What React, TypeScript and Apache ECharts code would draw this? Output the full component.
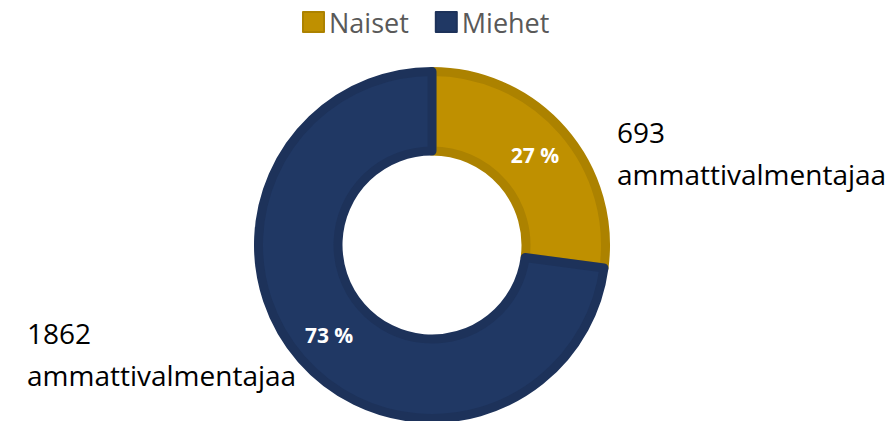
import React, { useEffect, useRef } from "react";
import * as echarts from "echarts";

const categories = ["Naiset", "Miehet"];
const values = [693, 1862];
const percentLabels = ["27 %", "73 %"];
const countSuffix = "ammattivalmentajaa";
const fillColors = ["#BF9000", "#203864"];
const borderColors = ["#AC8200", "#1D325A"];

export default function App() {
  const ref = useRef<HTMLDivElement>(null);
  useEffect(() => {
    if (!ref.current) return;
    const chart = echarts.init(ref.current, null, { renderer: "svg" });
    const font = "'Open Sans', 'Noto Sans', sans-serif";
    chart.setOption({
      animation: false,
      legend: {
        data: categories,
        left: 297,
        top: 2,
        icon: "rect",
        itemWidth: 21,
        itemHeight: 20,
        itemGap: 26,
        textStyle: { fontFamily: font, fontSize: 27, color: "#595959", lineHeight: 30 },
      },
      series: [
        {
          type: "pie",
          center: [432, 245],
          radius: [94, 173.5],
          startAngle: 90,
          clockwise: true,
          silent: true,
          label: {
            show: true,
            position: "inside",
            color: "#ffffff",
            fontWeight: "bold",
            fontSize: 21,
            fontFamily: font,
            formatter: (p: any) => percentLabels[p.dataIndex],
          },
          labelLine: { show: false },
          data: categories.map((c, i) => ({
            name: c,
            value: values[i],
            itemStyle: { color: fillColors[i], borderColor: borderColors[i], borderWidth: 9 },
          })),
        },
      ],
      graphic: [
        {
          type: "text",
          left: 617,
          top: 111,
          style: {
            text: `${values[0]}\n${countSuffix}`,
            fontFamily: font,
            fontSize: 28,
            lineHeight: 42,
            fill: "#000000",
          },
        },
        {
          type: "text",
          left: 27,
          top: 312,
          style: {
            text: `${values[1]}\n${countSuffix}`,
            fontFamily: font,
            fontSize: 28,
            lineHeight: 42,
            fill: "#000000",
          },
        },
      ],
    });
    return () => chart.dispose();
  }, []);
  return (
    <div
      ref={ref}
      style={{ position: "absolute", left: 0, top: 0, width: 895, height: 421 }}
    />
  );
}
